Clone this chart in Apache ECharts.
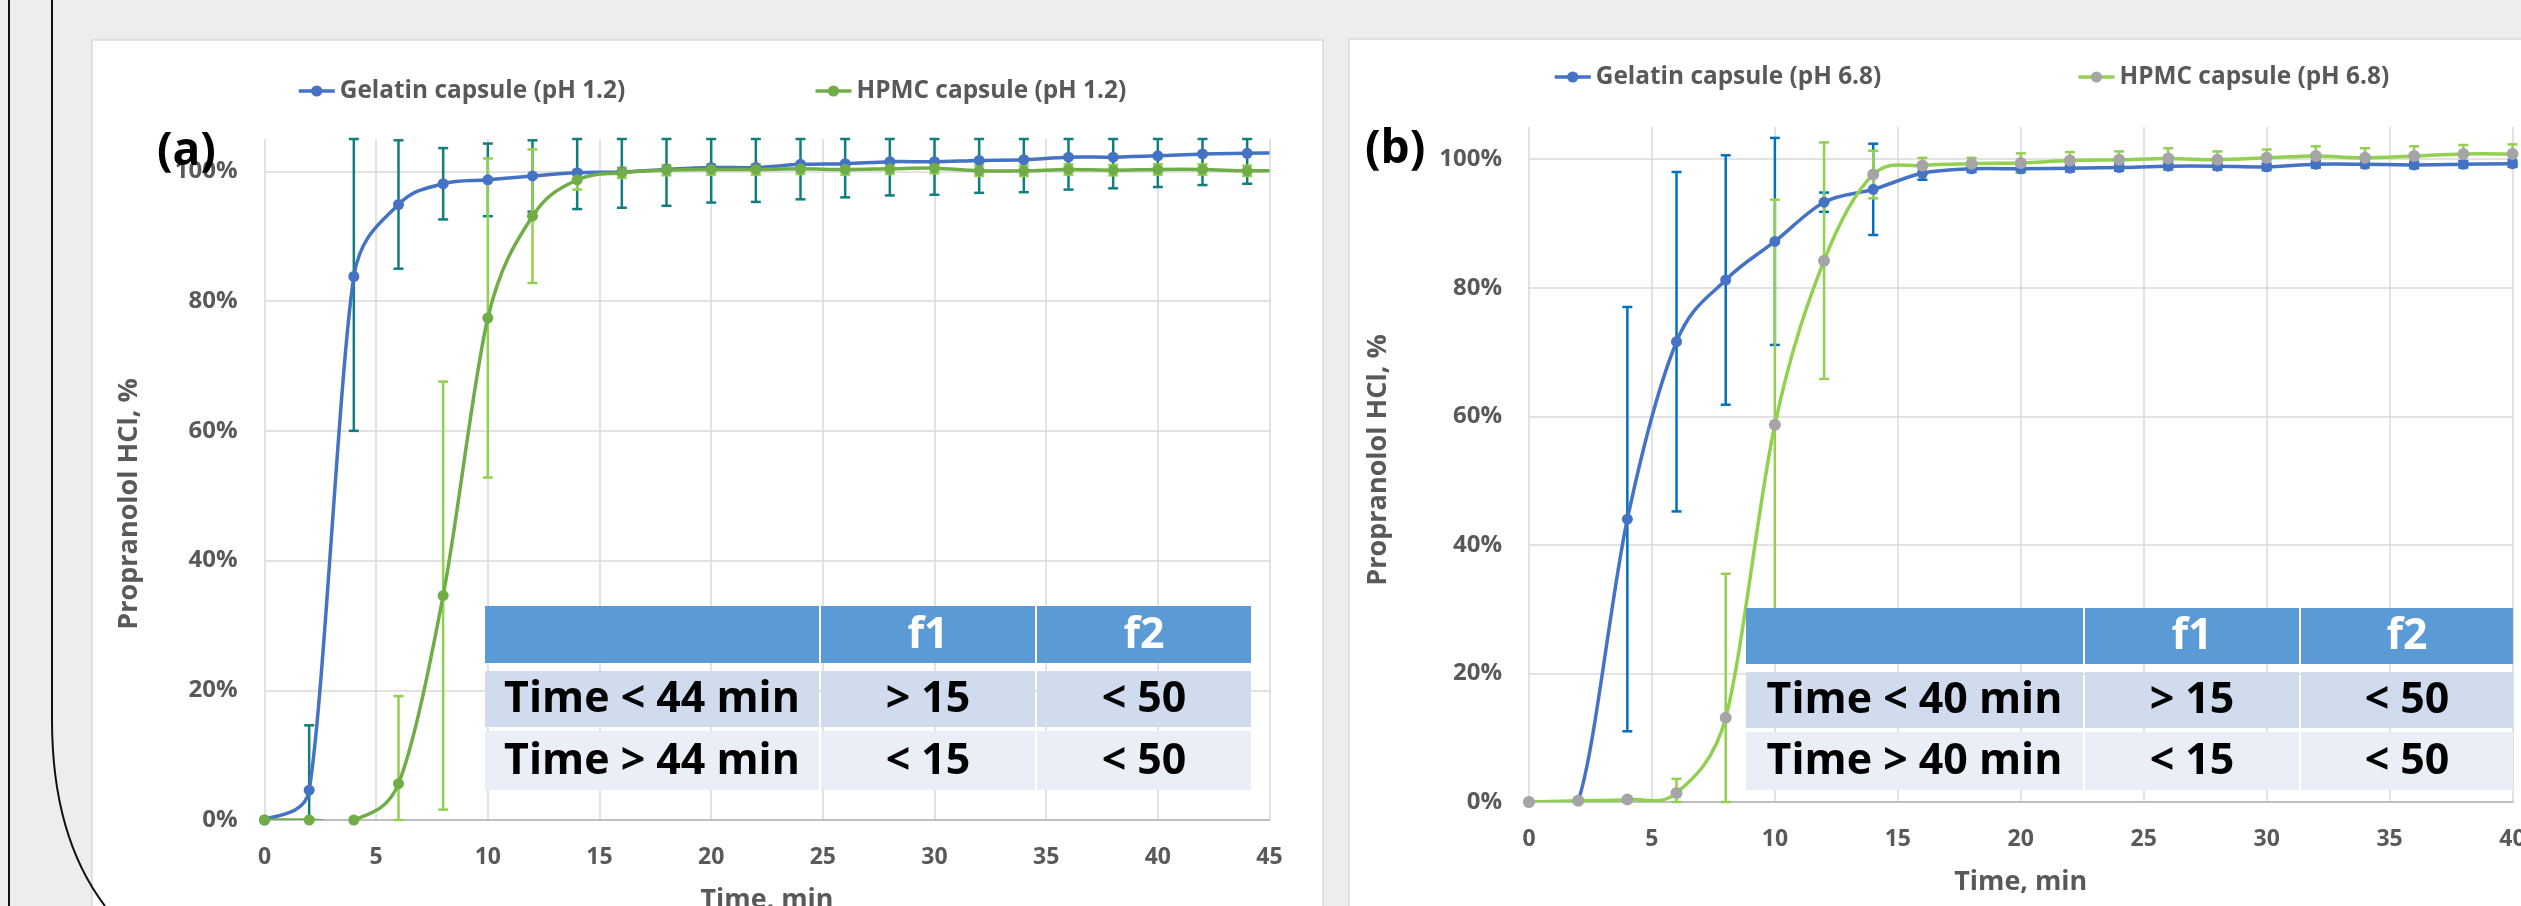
<!DOCTYPE html>
<html><head><meta charset="utf-8">
<script src="https://cdn.jsdelivr.net/npm/echarts@6/dist/echarts.min.js"></script>
<style>html,body{margin:0;padding:0;background:#ededed;}#c{width:2521px;height:906px;}</style>
</head><body><div id="c"></div>
<script>
// ---------- data ----------
const timesA = [0,2,4,6,8,10,12,14,16,18,20,22,24,26,28,30,32,34,36,38,40,42,44,46];
const gelatinA = [0,4.6,83.8,94.9,98.1,98.7,99.3,99.8,99.9,100.3,100.6,100.6,101.1,101.2,101.5,101.5,101.7,101.8,102.2,102.2,102.4,102.7,102.8,102.9];
const hpmcA    = [0,0,0,5.6,34.6,77.4,93.1,98.7,99.8,100.2,100.3,100.3,100.4,100.3,100.4,100.5,100.1,100.1,100.3,100.2,100.3,100.3,100.1,100.1];
const gelatinErrA = [0,10,23.8,9.9,5.5,5.6,5.5,5.6,5.5,5.6,5.4,5.3,5.4,5.2,5.2,5.1,5.0,5.0,5.0,4.8,4.8,4.8,4.7,0];
const hpmcErrA    = [0,0,0,13.5,33,24.6,10.3,1.5,0.8,0.8,0.8,0.8,0.8,0.8,0.8,0.8,0.8,0.8,0.8,0.8,0.8,0.8,0.8,0];

const timesB = [0,2,4,6,8,10,12,14,16,18,20,22,24,26,28,30,32,34,36,38,40];
const gelatinB = [0,0.2,44.0,71.6,81.2,87.2,93.3,95.3,97.8,98.5,98.5,98.6,98.7,98.9,98.9,98.8,99.2,99.2,99.1,99.2,99.3];
const hpmcB    = [0,0.2,0.4,1.4,13.1,58.7,84.2,97.6,99.0,99.3,99.4,99.8,99.9,100.1,99.9,100.2,100.5,100.2,100.5,100.8,100.8];
const gelatinErrB = [0,0.3,33,26.4,19.4,16.1,1.5,7.1,1.0,0.5,0.5,0.5,0.5,0.5,0.5,0.5,0.5,0.5,0.5,0.5,0.5];
const hpmcErrB    = [0,0,0,2.2,22.4,35,18.4,3.7,1.2,0.9,1.5,1.3,1.3,1.6,1.3,1.3,1.5,1.5,1.5,1.4,1.5];

const namesA = ['Gelatin capsule (pH 1.2)', 'HPMC capsule (pH 1.2)'];
const namesB = ['Gelatin capsule (pH 6.8)', 'HPMC capsule (pH 6.8)'];
const panelLabels = ['(a)', '(b)'];
const yTitle = 'Propranolol HCl, %';
const xTitle = 'Time, min';
const tableHeader = ['', 'f1', 'f2'];
const tableRowsA = [['Time < 44 min', '> 15', '< 50'], ['Time > 44 min', '< 15', '< 50']];
const tableRowsB = [['Time < 40 min', '> 15', '< 50'], ['Time > 40 min', '< 15', '< 50']];

// ---------- helpers ----------
const FONT = '"Open Sans", "DejaVu Sans", sans-serif';
const GRAY = '#595959';
const Y_MAX = 105;

// font size that makes `text` (bold) span `target` pixels
const _ctx = document.createElement('canvas').getContext('2d');
function fitSize(text, target) {
  _ctx.font = 'bold 100px ' + FONT;
  return Math.round(100 * target / _ctx.measureText(text).width * 10) / 10;
}

function pairs(xs, ys) { return xs.map((x, i) => [x, ys[i]]); }
function triples(xs, ys, es) { return xs.map((x, i) => [x, ys[i], es[i]]); }

function errRender(xMax) {
  return function (params, api) {
    const x = api.value(0), y = api.value(1), e = api.value(2);
    if (!e || x > xMax) return null;
    const lo = Math.max(0, y - e), hi = Math.min(Y_MAX, y + e);
    const pLo = api.coord([x, lo]), pHi = api.coord([x, hi]);
    const cw = 5;
    const style = { stroke: api.visual('color'), lineWidth: 2.5 };
    return { type: 'group', children: [
      { type: 'line', shape: { x1: pLo[0], y1: pLo[1], x2: pHi[0], y2: pHi[1] }, style },
      { type: 'line', shape: { x1: pLo[0] - cw, y1: pLo[1], x2: pLo[0] + cw, y2: pLo[1] }, style },
      { type: 'line', shape: { x1: pHi[0] - cw, y1: pHi[1], x2: pHi[0] + cw, y2: pHi[1] }, style }
    ]};
  };
}

// Excel-like smoothed line: cardinal bezier segments through the data points,
// control arms limited to half of the adjacent segment length
function curveRender(xs, ys) {
  const n = xs.length;
  return function (params, api) {
    const i = params.dataIndex;
    if (i >= n - 1) return null;
    const P = k => { const j = Math.max(0, Math.min(n - 1, k)); return api.coord([xs[j], ys[j]]); };
    const p0 = P(i - 1), p1 = P(i), p2 = P(i + 1), p3 = P(i + 2);
    const segLen = Math.hypot(p2[0] - p1[0], p2[1] - p1[1]);
    function arm(a, b) {
      let dx = (b[0] - a[0]) / 6, dy = (b[1] - a[1]) / 6;
      const L = Math.hypot(dx, dy), cap = 0.5 * segLen;
      if (L > cap && L > 0) { dx *= cap / L; dy *= cap / L; }
      return [dx, dy];
    }
    const a1 = arm(p0, p2), a2 = arm(p1, p3);
    const cs = params.coordSys;
    return {
      type: 'bezierCurve',
      shape: { x1: p1[0], y1: p1[1],
        cpx1: p1[0] + a1[0], cpy1: p1[1] + a1[1],
        cpx2: p2[0] - a2[0], cpy2: p2[1] - a2[1],
        x2: p2[0], y2: p2[1] },
      style: { stroke: api.visual('color'), lineWidth: 3.5, fill: null, lineCap: 'round' },
      clipPath: { type: 'rect', shape: { x: cs.x, y: cs.y, width: cs.width, height: cs.height } }
    };
  };
}

const xTitleSize = fitSize(xTitle, 133);
function xAxisCfg(gridIndex, max) {
  return {
    type: 'value', gridIndex, min: 0, max, interval: 5,
    axisLine: { show: true, lineStyle: { color: '#bfbfbf', width: 2 } },
    axisTick: { show: false },
    axisLabel: { color: GRAY, fontSize: 23, fontWeight: 'bold', fontFamily: FONT, margin: 26 },
    splitLine: { show: true, lineStyle: { color: '#d9d9d9', width: 1.5 } },
    name: xTitle, nameLocation: 'middle', nameGap: 67, nameMoveOverlap: false,
    nameTextStyle: { color: GRAY, fontSize: xTitleSize, fontWeight: 'bold', fontFamily: FONT }
  };
}
function yAxisCfg(gridIndex) {
  return {
    type: 'value', gridIndex, min: 0, max: Y_MAX, interval: 20,
    axisLine: { show: false }, axisTick: { show: false },
    axisLabel: { color: GRAY, fontSize: 24, fontWeight: 'bold', fontFamily: FONT, margin: 27,
      formatter: v => (v > 100 ? '' : v + '%') },
    splitLine: { show: true, showMaxLine: false, lineStyle: { color: '#d9d9d9', width: 1.5 } }
  };
}
function markerSeries(name, xi, data, lineColor, markColor, size) {
  return {
    name, type: 'line', xAxisIndex: xi, yAxisIndex: xi, data,
    symbol: 'circle', symbolSize: size, showSymbol: true, clip: true, z: 4,
    lineStyle: { color: lineColor, width: 3.5, opacity: 0 },
    itemStyle: { color: markColor }
  };
}
function curveSeries(xi, xs, ys, color) {
  return {
    type: 'custom', xAxisIndex: xi, yAxisIndex: xi, data: pairs(xs, ys), z: 3,
    itemStyle: { color }, renderItem: curveRender(xs, ys), silent: true
  };
}
function errSeries(xi, data, color, xMax) {
  return {
    type: 'custom', xAxisIndex: xi, yAxisIndex: xi, data, z: 2,
    itemStyle: { color }, renderItem: errRender(xMax), silent: true
  };
}
const tableSize = fitSize('Time < 44 min', 296);
function table(x0, colW, rowTop, rowH, header, rows) {
  const els = [];
  const fills = ['#5b9bd5', '#d0dcee', '#e9eef7'];
  const allRows = [header].concat(rows);
  allRows.forEach((r, ri) => {
    let x = x0;
    r.forEach((txt, ci) => {
      els.push({ type: 'rect', z: 100, shape: { x, y: rowTop[ri], width: colW[ci], height: rowH[ri] },
        style: { fill: fills[ri] } });
      els.push({ type: 'text', z: 101, x: x + colW[ci] / 2, y: rowTop[ri] + rowH[ri] / 2 + 1,
        style: { text: txt, fill: ri === 0 ? '#ffffff' : '#000000', font: 'bold ' + tableSize + 'px ' + FONT,
          align: 'center', verticalAlign: 'middle' } });
      x += colW[ci] + 2;
    });
  });
  return els;
}
const yTitleSize = fitSize(yTitle, 251);
function yTitleText(x, y) {
  return { type: 'text', z: 20, x, y, rotation: Math.PI / 2,
    style: { text: yTitle, font: 'bold ' + yTitleSize + 'px ' + FONT, fill: GRAY, align: 'center', verticalAlign: 'middle' } };
}

const chart = echarts.init(document.getElementById('c'), null, { renderer: 'canvas' });

const graphics = [
  { type: 'rect', z: -10, shape: { x: 92, y: 40, width: 1231, height: 900 }, style: { fill: '#ffffff', stroke: '#d9d9d9', lineWidth: 1.5 } },
  { type: 'rect', z: -10, shape: { x: 1349, y: 39, width: 1200, height: 900 }, style: { fill: '#ffffff', stroke: '#d9d9d9', lineWidth: 1.5 } },
  { type: 'line', z: 5, shape: { x1: 9, y1: 0, x2: 9, y2: 906 }, style: { stroke: '#111', lineWidth: 2 } },
  { type: 'line', z: 5, shape: { x1: 52, y1: 0, x2: 52, y2: 720 }, style: { stroke: '#111', lineWidth: 2 } },
  { type: 'bezierCurve', z: 5, shape: { x1: 52, y1: 720, cpx1: 52, cpy1: 800, cpx2: 70, cpy2: 860, x2: 105, y2: 906 },
    style: { stroke: '#111', lineWidth: 2, fill: null } },
  { type: 'text', z: 50, x: 157, y: 129, style: { text: panelLabels[0], font: 'bold 46px ' + FONT, fill: '#000' } },
  { type: 'text', z: 50, x: 1365, y: 127, style: { text: panelLabels[1], font: 'bold 46px ' + FONT, fill: '#000' } },
  yTitleText(129, 504),
  yTitleText(1378, 460)
].concat(
  table(485, [334, 214, 214], [606, 671, 731], [57, 56, 59], tableHeader, tableRowsA),
  table(1746, [337, 214, 212], [608, 672, 732], [56, 56, 58], tableHeader, tableRowsB)
);

const legendSize = fitSize(namesA[0], 286);
_ctx.font = 'bold ' + legendSize + 'px ' + FONT;
const wA = _ctx.measureText(namesA[0]).width, wB = _ctx.measureText(namesB[0]).width;
const legendText = { color: GRAY, fontSize: legendSize, fontWeight: 'bold', fontFamily: FONT };
const legendLine = { opacity: 1, width: 3.5 };

chart.setOption({
  backgroundColor: '#ededed',
  animation: false,
  grid: [
    { left: 264.5, top: 139, width: 1005, height: 681, outerBoundsMode: 'none', containLabel: false },
    { left: 1529, top: 127, width: 983.5, height: 675, outerBoundsMode: 'none', containLabel: false }
  ],
  xAxis: [xAxisCfg(0, 45), xAxisCfg(1, 40)],
  yAxis: [yAxisCfg(0), yAxisCfg(1)],
  legend: [
    { data: namesA, left: 297, top: 79, padding: 0, itemWidth: 36, itemHeight: 14,
      itemGap: 812 - 297 - 41 - wA, textStyle: legendText, lineStyle: legendLine },
    { data: namesB, left: 1553, top: 65, padding: 0, itemWidth: 36, itemHeight: 14,
      itemGap: 2075 - 1553 - 41 - wB, textStyle: legendText, lineStyle: legendLine }
  ],
  graphic: graphics,
  series: [
    errSeries(0, triples(timesA, gelatinA, gelatinErrA), '#107e7d', 45),
    errSeries(0, triples(timesA, hpmcA, hpmcErrA), '#92d050', 45),
    curveSeries(0, timesA, gelatinA, '#4472c4'),
    curveSeries(0, timesA, hpmcA, '#70ad47'),
    markerSeries(namesA[0], 0, pairs(timesA, gelatinA), '#4472c4', '#4472c4', 11),
    markerSeries(namesA[1], 0, pairs(timesA, hpmcA), '#70ad47', '#70ad47', 11),
    errSeries(1, triples(timesB, gelatinB, gelatinErrB), '#0070c0', 40),
    errSeries(1, triples(timesB, hpmcB, hpmcErrB), '#92d050', 40),
    curveSeries(1, timesB, gelatinB, '#4472c4'),
    curveSeries(1, timesB, hpmcB, '#92d050'),
    markerSeries(namesB[0], 1, pairs(timesB, gelatinB), '#4472c4', '#4472c4', 11),
    markerSeries(namesB[1], 1, pairs(timesB, hpmcB), '#92d050', '#a5a5a5', 12)
  ]
});
</script></body></html>
